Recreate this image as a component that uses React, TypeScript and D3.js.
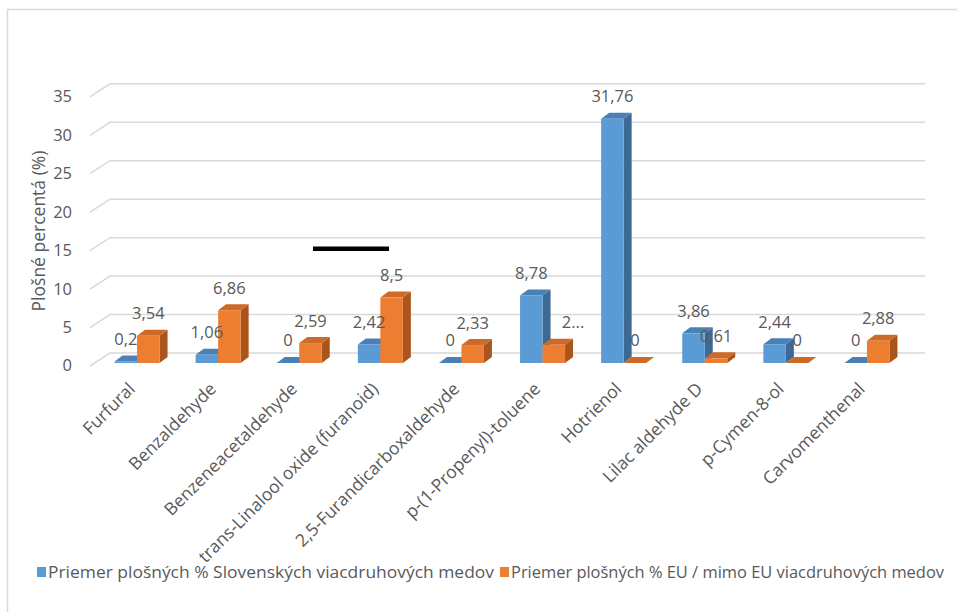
import React from "react";
import * as d3 from "d3";

// Compounds and the mean peak-area percentages of the two honey groups
const categories = [
  "Furfural",
  "Benzaldehyde",
  "Benzeneacetaldehyde",
  "trans-Linalool oxide (furanoid)",
  "2,5-Furandicarboxaldehyde",
  "p-(1-Propenyl)-toluene",
  "Hotrienol",
  "Lilac aldehyde D",
  "p-Cymen-8-ol",
  "Carvomenthenal",
];
const slovakValues = [0.2, 1.06, 0, 2.42, 0, 8.78, 31.76, 3.86, 2.44, 0];
const euValues = [3.54, 6.86, 2.59, 8.5, 2.33, 2.37, 0, 0.61, 0, 2.88];
// Printed data labels (one is shortened to "2..." where it runs into its neighbour)
const slovakLabels = ["0,2", "1,06", "0", "2,42", "0", "8,78", "31,76", "3,86", "2,44", "0"];
const euLabels = ["3,54", "6,86", "2,59", "8,5", "2,33", "2...", "0", "0,61", "0", "2,88"];
const yTicks = [0, 5, 10, 15, 20, 25, 30, 35];
const seriesNames = [
  "Priemer plošných % Slovenských viacdruhových medov",
  "Priemer plošných % EU / mimo EU viacdruhových medov",
];

const FONT = "'Open Sans', 'Noto Sans', sans-serif";
const TEXT = "#595959";
const GRID = "#d9d9d9";
const FS_TEXT = 17.5;
const FS_NUM = 16.5;
const FS_LEGEND = 16.8;

const palette = [
  { front: "#5b9bd5", top: "#4a80b6", side: "#3d6995" },
  { front: "#ed7d31", top: "#cc6a26", side: "#a9551c" },
];

// 3D layout: the floor line of the bars, and the wall offset used by the gridlines
const BASE = 363;
const GRID_FRONT = 366;
const WALL_DX = 20;
const WALL_DY = -13;
const BAR_DX = 8;
const BAR_DY = -6;
const BAR_W = 22.5;

const x = d3.scaleBand<string>().domain(categories).range([96.5, 907.5]);
const h = d3.scaleLinear().domain([0, 35]).range([0, 269.2]);

function Bar3D({ x0, value, colors }: { x0: number; value: number; colors: typeof palette[0] }) {
  const top = BASE - h(value);
  const w = BAR_W;
  const topFace = [
    [x0, top],
    [x0 + BAR_DX, top + BAR_DY],
    [x0 + w + BAR_DX, top + BAR_DY],
    [x0 + w, top],
  ];
  const sideFace = [
    [x0 + w, top],
    [x0 + w + BAR_DX, top + BAR_DY],
    [x0 + w + BAR_DX, BASE + BAR_DY],
    [x0 + w, BASE],
  ];
  const pts = (p: number[][]) => p.map((q) => q.join(",")).join(" ");
  return (
    <g>
      <polygon points={pts(sideFace)} fill={colors.side} />
      <polygon points={pts(topFace)} fill={colors.top} />
      {value > 0 && <rect x={x0} y={top} width={w} height={BASE - top} fill={colors.front} />}
    </g>
  );
}

export default function App() {
  const width = 957;
  const height = 612;
  const gridRight = 925;
  const series = [slovakValues, euValues];
  const labels = [slovakLabels, euLabels];

  return (
    <svg
      width={width}
      height={height}
      style={{ position: "absolute", left: 0, top: 0, fontFamily: FONT }}
    >
      <rect x={0} y={0} width={width} height={height} fill="#fff" />
      {/* chart frame */}
      <path d={`M7.5,${height} V9.5 H${width}`} fill="none" stroke="#d9d9d9" strokeWidth={1.5} />

      {/* gridlines: a diagonal on the side wall, then straight along the back wall */}
      {yTicks.map((t) => {
        const yf = GRID_FRONT - h(t);
        return (
          <g key={t}>
            <path
              d={`M90,${yf} L${90 + WALL_DX},${yf + WALL_DY} H${gridRight}`}
              fill="none"
              stroke={GRID}
              strokeWidth={1.5}
            />
            <text
              x={72}
              y={yf + 1}
              textAnchor="end"
              dominantBaseline="middle"
              fontSize={FS_NUM}
              fill={TEXT}
            >
              {t}
            </text>
          </g>
        );
      })}

      {/* y axis title */}
      <text
        transform="translate(40,231) rotate(-90)"
        textAnchor="middle"
        dominantBaseline="middle"
        fontSize={FS_TEXT}
        fill={TEXT}
      >
        Plošné percentá (%)
      </text>

      {/* columns */}
      {categories.map((c, i) => {
        const center = (x(c) as number) + x.bandwidth() / 2;
        return (
          <g key={c}>
            {series.map((vals, s) => (
              <Bar3D
                key={s}
                x0={center - BAR_W + s * BAR_W}
                value={vals[i]}
                colors={palette[s]}
              />
            ))}
          </g>
        );
      })}

      {/* data labels */}
      {categories.map((c, i) => {
        const center = (x(c) as number) + x.bandwidth() / 2;
        return series.map((vals, s) => {
          const cx = center - BAR_W / 2 + s * BAR_W;
          const truncated = labels[s][i].endsWith("...");
          return (
            <text
              key={c + s}
              x={truncated ? cx + 8 : cx}
              y={BASE - h(vals[i]) - 21}
              textAnchor={truncated ? "start" : "middle"}
              dominantBaseline="middle"
              fontSize={FS_NUM}
              fill={TEXT}
            >
              {labels[s][i]}
            </text>
          );
        });
      })}

      {/* category labels */}
      {categories.map((c) => {
        const center = (x(c) as number) + x.bandwidth() / 2;
        return (
          <text
            key={c}
            transform={`translate(${center - 1},${390}) rotate(-45)`}
            textAnchor="end"
            fontSize={FS_TEXT}
            fill={TEXT}
          >
            {c}
          </text>
        );
      })}

      {/* marker bar */}
      <rect x={313} y={246.5} width={76} height={4.5} fill="#000" />

      {/* legend */}
      {seriesNames.map((name, s) => {
        const lx = s === 0 ? 37 : 500;
        const textWidths = [446, 433];
        return (
          <g key={name}>
            <rect x={lx} y={567} width={9} height={10} fill={palette[s].front} />
            <text
              x={lx + 11}
              y={573}
              dominantBaseline="middle"
              fontSize={FS_LEGEND}
              textLength={textWidths[s]}
              lengthAdjust="spacingAndGlyphs"
              fill={TEXT}
            >
              {name}
            </text>
          </g>
        );
      })}
    </svg>
  );
}
